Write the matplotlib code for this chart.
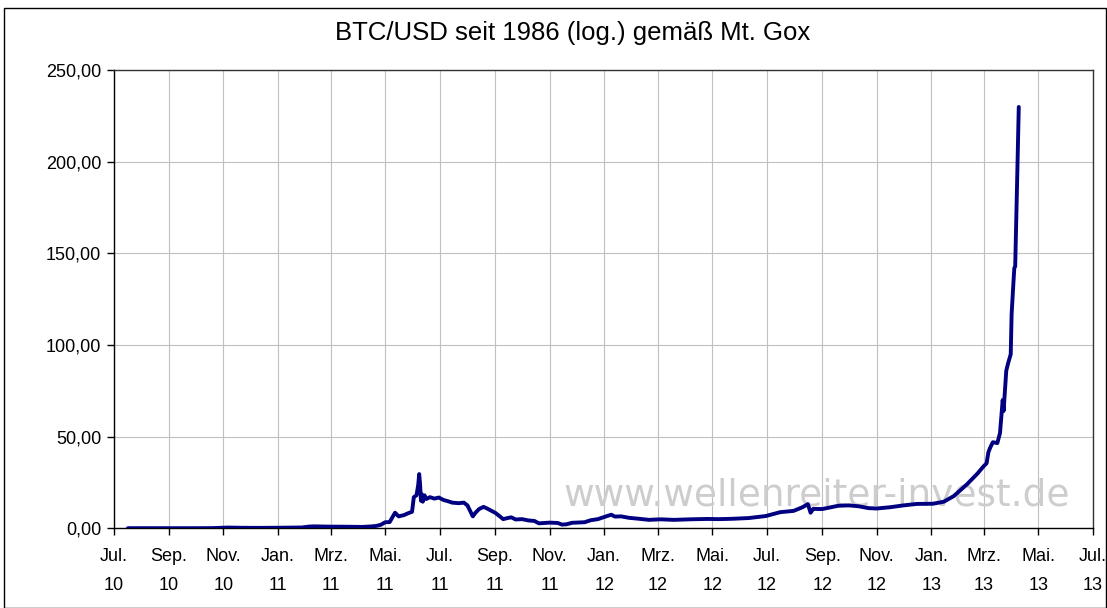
import matplotlib
matplotlib.use("Agg")
import matplotlib.pyplot as plt
from matplotlib.patches import Rectangle
import numpy as np
import pandas as pd

# BTC/USD Mt. Gox close prices
dates = [
    "2010-07-17", "2010-08-01", "2010-09-01", "2010-10-01", "2010-10-20",
    "2010-11-06", "2010-11-20", "2010-12-10", "2011-01-01", "2011-01-20",
    "2011-01-28", "2011-02-05", "2011-02-10", "2011-03-01", "2011-03-20",
    "2011-04-05", "2011-04-15", "2011-04-21", "2011-04-26", "2011-05-01",
    "2011-05-06", "2011-05-09", "2011-05-12", "2011-05-16", "2011-05-22",
    "2011-05-27", "2011-05-31", "2011-06-02", "2011-06-05", "2011-06-07",
    "2011-06-08", "2011-06-09", "2011-06-10", "2011-06-11", "2011-06-12",
    "2011-06-14", "2011-06-16", "2011-06-20", "2011-06-25", "2011-06-30",
    "2011-07-05", "2011-07-10", "2011-07-15", "2011-07-22", "2011-07-28",
    "2011-08-01", "2011-08-04", "2011-08-07", "2011-08-10", "2011-08-14",
    "2011-08-19", "2011-08-23", "2011-08-28", "2011-09-01", "2011-09-05",
    "2011-09-10", "2011-09-15", "2011-09-19", "2011-09-24", "2011-10-01",
    "2011-10-08", "2011-10-15", "2011-10-20", "2011-11-01", "2011-11-10",
    "2011-11-15", "2011-11-20", "2011-11-26", "2011-12-10", "2011-12-17",
    "2011-12-25", "2012-01-05", "2012-01-09", "2012-01-13", "2012-01-20",
    "2012-01-29", "2012-02-09", "2012-02-20", "2012-03-04", "2012-03-19",
    "2012-04-06", "2012-04-25", "2012-05-09", "2012-05-24", "2012-06-11",
    "2012-06-30", "2012-07-16", "2012-07-31", "2012-08-10", "2012-08-16",
    "2012-08-19", "2012-08-22", "2012-09-01", "2012-09-19", "2012-10-01",
    "2012-10-12", "2012-10-23", "2012-11-01", "2012-11-16", "2012-12-01",
    "2012-12-16", "2013-01-03", "2013-01-15", "2013-01-26", "2013-02-02",
    "2013-02-10", "2013-02-17", "2013-02-22", "2013-02-28", "2013-03-04",
    "2013-03-06", "2013-03-08", "2013-03-11", "2013-03-16", "2013-03-19",
    "2013-03-22", "2013-03-23", "2013-03-26", "2013-03-28", "2013-03-31",
    "2013-04-01", "2013-04-03", "2013-04-04", "2013-04-05", "2013-04-07",
    "2013-04-09",
]
prices = [
    0.05, 0.07, 0.06, 0.06, 0.10,
    0.40, 0.28, 0.23, 0.30, 0.40,
    0.45, 0.95, 1.05, 0.90, 0.85,
    0.75, 1.00, 1.30, 1.90, 3.30,
    3.40, 6.00, 8.50, 6.50, 7.20,
    8.30, 9.00, 17.0, 18.0, 24.0,
    29.6, 24.0, 15.0, 18.5, 14.5,
    18.0, 16.0, 17.0, 16.2, 16.8,
    15.5, 14.8, 14.0, 13.7, 14.0,
    12.5, 9.5, 6.5, 8.5, 10.5,
    11.7, 10.8, 9.5, 8.5, 7.0,
    5.0, 5.6, 6.0, 4.8, 5.0,
    4.3, 4.0, 2.7, 3.1, 2.9,
    2.0, 2.2, 3.0, 3.3, 4.4,
    5.0, 6.8, 7.4, 6.4, 6.5,
    5.7, 5.2, 4.6, 4.9, 4.6,
    4.9, 5.1, 5.0, 5.2, 5.6,
    6.7, 8.8, 9.5, 11.5, 13.2,
    8.5, 10.6, 10.5, 12.3, 12.5,
    12.0, 11.0, 10.8, 11.5, 12.5,
    13.3, 13.4, 14.5, 17.5, 20.5,
    24.0, 27.5, 30.0, 33.5, 35.5,
    41.5, 44.0, 47.0, 46.5, 52.0,
    70.0, 64.0, 86.0, 90.0, 95.0,
    117.0, 134.0, 142.0, 143.0, 186.0,
    230.0,
]
y_ticks = [0, 50, 100, 150, 200, 250]
month_names = {1: "Jan.", 3: "Mrz.", 5: "Mai.", 7: "Jul.", 9: "Sep.", 11: "Nov."}
title = "BTC/USD seit 1986 (log.) gemäß Mt. Gox"
watermark = "www.wellenreiter-invest.de"

plt.rcParams['font.family'] = ['Liberation Sans', 'DejaVu Sans']

x = pd.to_datetime(dates)
y = np.array(prices)

fig = plt.figure(figsize=(11.07, 6.08), dpi=100)
ax = fig.add_axes([0.1026, 0.1311, 0.8847, 0.7533])

# chart area border
fig.patches.append(Rectangle((0.004, 0.0), 0.995, 0.987, transform=fig.transFigure,
                             fill=False, edgecolor='black', linewidth=1.0))

fig.text(0.517, 0.945, title, ha='center', va='center', fontsize=18.5)

# watermark behind the line
ax.text(0.718, 0.072, watermark, transform=ax.transAxes, ha='center', va='center',
        fontsize=27, color='#cdcdcd', family='DejaVu Sans', zorder=1)

ax.plot(x, y, color='#000080', linewidth=2.8, solid_joinstyle='round',
        solid_capstyle='round', zorder=3)

ax.set_xlim(pd.Timestamp("2010-07-01"), pd.Timestamp("2013-07-01"))
ax.set_ylim(0, 250)

ticks = pd.date_range("2010-07-01", "2013-07-01", freq="2MS")
ax.set_xticks(ticks)
ax.set_xticklabels([f"{month_names[t.month]}\n{t.year % 100:02d}" for t in ticks],
                   fontsize=13, linespacing=1.95)
ax.set_yticks(y_ticks)
ax.set_yticklabels([f"{v:.2f}".replace(".", ",") for v in y_ticks], fontsize=13)

ax.grid(True, color='#c0c0c0', linewidth=0.8, zorder=0)
ax.set_axisbelow(True)
ax.tick_params(axis='x', direction='out', length=5, width=1, pad=9)
ax.tick_params(axis='y', direction='out', length=5, width=1, pad=4)
for s in ax.spines.values():
    s.set_linewidth(1.0)
    s.set_color('black')
ax.spines['top'].set_color('#333333')
ax.spines['right'].set_color('#333333')

fig.savefig("out.png", dpi=100)
